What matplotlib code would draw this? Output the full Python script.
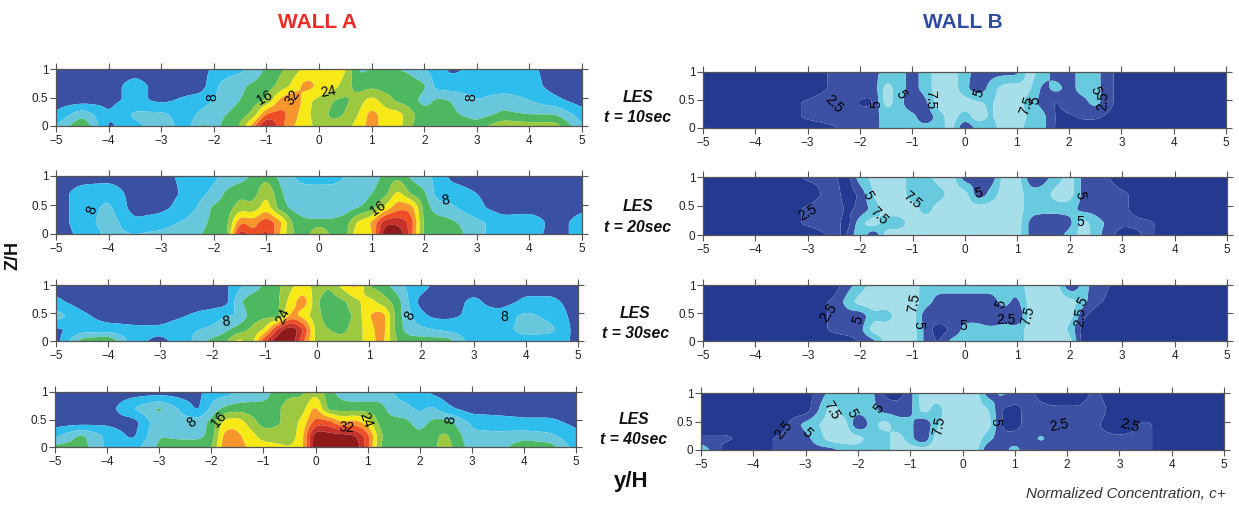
import numpy as np
import matplotlib
matplotlib.use("Agg")
import matplotlib.pyplot as plt
from matplotlib.colors import ListedColormap, BoundaryNorm

plt.rcParams['font.family'] = ['Liberation Sans', 'DejaVu Sans']

W, H = 1239, 505

y_cols = [-5, -4.5, -4, -3.5, -3, -2.5, -2.25, -2, -1.75, -1.5, -1.25, -1, -.75, -.5, -.25, 0, .25, .5, .75, 1, 1.25, 1.5, 1.75, 2, 2.25, 2.5, 3, 3.5, 4, 4.5, 5]
z_rows = [0, .2, .45, .7, 1]

wall_a_levels = [0, 4, 8, 12, 16, 20, 24, 28, 32, 36, 40]
wall_a_colors = ['#3a50a2', '#2fbdee', '#69c7dc', '#4db85f', '#9cc93f', '#f6e917', '#f7962d', '#ee4e24', '#c8302a', '#8e1a1c']
wall_b_levels = [0, 2.5, 5, 7.5, 10]
wall_b_colors = ['#233a90', '#3c51a4', '#67cadf', '#a6deea']

a10 = [
    [8,16,3,7,10,6,13,11,13,16,26,39,30,24,22,18,17,18,22,26,22,22,16,14,14,15,14,19,18,18,8],
    [4.5,11,4,9,9,6,9,11,12,14,17,29,30,26,21,18,15,16,20,26,22,22,17,14,14,13,10,13,12,12,6],
    [2,2,3,5,3,5,6,8,10,12,14,16,25,29,21,19,16,15,18,22,18,15,14,10,13,12,8,10,8,5,2],
    [2,2,2,6,2,2,2,7,10,11,13,14,17,21,26,23,22,18,14,15,14,15,14,13,6,6,6,6,6,2,2],
    [2,2,2,2,2,2,2,5,6,7,9,13,15,18,21,23,23,21,11,12,12,12,11,8,6,3,5,6,5,2,2],
]
a20 = [
    [2,5,9,8,9,11,12,13,14,36,28,34,24,16,13,22,14,14,24,22,40,40,30,14,14,15,9,6,5,3,5],
    [2,6,10,5,6,9,11,13,14,28,26,31,26,15,13,13,13,14,21,24,35,35,31,14,14,13,9,6,7,2,6],
    [2,6,9,2,3,6,9,13,14,18,17,23,14,11,9,9,9,10,12,14,21,27,27,14,10,9,5,2,2,2,3],
    [2,6,7,2,2,5,7,9,13,15,14,20,13,9,9,9,9,9,9,12,14,22,15,13,6,6,4,2,2,2,2],
    [2,2,2,2,3,5,6,7,9,10,13,15,11,8,7,7,7,8,9,10,13,15,11,9,7,3,2,2,2,2,2],
]
a30 = [
    [2,14,16,5,3,6,11,13,15,22,17,32,40,40,28,18,17,17,18,22,26,16,14,14,14,14,5,6,7,6,3],
    [3,6,6,5,5,7,8,9,11,14,17,20,34,40,32,17,16,15,18,22,27,15,10,9,8,7,6,7,9,9,2],
    [10,5,2,2,2,4,5,6,8,8,14,15,14,26,22,17,14,14,17,24,27,15,9,5,3,3,5,6,9,7,2],
    [5,2,2,2,2,2,2,2,2,11,15,14,15,22,27,16,14,15,19,22,18,15,8,2,2,2,5,2,5,5,2],
    [2,2,2,2,2,2,2,2,3,7,9,13,15,19,22,18,16,22,26,15,14,10,7,6,3,2,2,2,2,2,2],
]
a40 = [
    [13,14,7,6,13,14,14,15,27,26,23,22,21,20,22,40,40,40,40,30,15,14,14,14,15,18,10,10,15,14,6],
    [7,13,7,3,12,11,11,13,26,25,22,18,18,18,22,40,38,38,37,30,16,14,14,13,15,17,9,9,10,9,5],
    [2,2,3,2,11,10,10,13,22,23,18,14,15,18,21,30,30,24,26,22,14,14,13,10,13,14,7,6,5,5,3],
    [2,2,2,8,13,6,3,9,13,14,14,14,15,18,18,26,14,14,14,14,14,9,9,7,9,5,2,2,2,2,2],
    [2,2,2,2,2,2,3,6,6,8,9,9,14,15,15,19,14,10,9,9,9,8,6,6,3,2,2,2,2,2,2],
]
b10 = [
    [1,1,1,1,1,2,4,4,4,6,6,6,6,6,9,2,6,6,9,9,6,6,2,1,1,1,1,1,1,1,1],
    [1,1,1,1,3,4,4,4,4,6,6,6,3,6,9,6,9,7,9,9,7,6,2,2,3,3,1,1,1,1,1],
    [1,1,1,1,3,4,4,2,2,9,6,3,4,9,9,9,8,7,9,9,6,4,2,4,4,6,1,1,1,1,1],
    [1,1,1,1,1,3,4,4,3,9,6,4,6,9,9,6,3,6,9,9,8,4,6,4,6,6,1,1,1,1,1],
    [1,1,1,1,1,3,4,4,4,6,6,4,6,9,9,6,4,4,4,4,9,6,4,4,6,6,1,1,1,1,1],
]
b20 = [
    [1,1,1,1,1,3,2,8,2,9,9,9,9,9,9,9,9,9,9,9,4,4,4,6,9,6,1,3,1,1,1],
    [1,1,1,1,3,4,1,7,9,6,6,9,9,9,9,9,9,9,9,9,4,3,3,4,9,6,3,3,1,1,1],
    [1,1,1,1,3,4,2,3,6,9,9,9,6,9,9,9,9,9,9,9,6,6,6,6,4,4,3,1,1,1,1],
    [1,1,1,1,1,4,1,3,8,9,9,6,6,6,9,9,3,6,9,9,6,6,9,9,4,4,3,1,1,1,1],
    [1,1,1,1,3,3,1,7,8,9,9,6,6,9,9,3,5,3,9,9,3,4,6,9,4,4,1,1,1,1,1],
]
b30 = [
    [1,1,1,1,1,1,1,3,4,9,9,9,4,2,6,6,6,6,6,6,9,9,9,9,1,1,1,1,1,1,1],
    [1,1,1,1,1,3,4,4,9,9,9,9,4,1,3,6,6,6,6,6,9,9,9,7,1,1,1,1,1,1,1],
    [1,1,1,1,1,3,4,3,7,6,9,9,3,4,4,4,4,2,4,2,9,9,9,9,3,1,1,1,1,1,1],
    [1,1,1,1,1,3,6,9,9,9,9,9,6,4,4,4,4,4,6,4,9,9,9,9,6,3,1,1,1,1,1],
    [1,1,1,1,1,1,4,6,9,9,9,9,6,6,6,6,6,6,6,6,9,9,9,2,6,4,1,1,1,1,1],
]
b40 = [
    [7,1,1,3,4,4,6,6,6,6,9,9,9,9,9,9,9,2,3,7,2,3,3,3,3,3,3,3,1,1,1],
    [3,3,1,3,4,9,9,9,6,6,9,6,2,9,9,9,9,6,3,3,3,6,3,3,3,3,3,3,1,1,1],
    [1,1,1,1,6,9,9,2,6,9,6,6,2,7,9,9,9,9,2,2,3,3,3,3,3,3,1,3,1,1,1],
    [1,1,1,1,1,9,6,6,6,4,4,4,9,6,9,9,9,8,2,2,3,3,3,3,3,4,1,1,1,1,1],
    [1,1,1,1,1,6,6,6,6,2,1,4,9,9,9,9,9,3,6,3,3,2,1,1,1,3,1,1,1,1,1],
]

a_frames = [(56, 582, 69, 126), (56, 582, 176, 234), (56, 578, 285, 341), (55, 576, 392, 447)]
b_frames = [(703, 1226, 72, 128), (703, 1227, 177, 235), (703, 1227, 285, 341), (701, 1224, 393, 450)]

a_labels = [
    [("8", -2.03, .5, 90), ("16", -1.03, .5, 30), ("32", -.5, .5, 55), ("24", .17, .6, 10), ("8", 2.9, .5, 90)],
    [("8", -4.32, .42, 70), ("16", 1.13, .45, 35), ("8", 2.4, .58, 10)],
    [("8", -1.75, .35, 5), ("24", -.65, .45, 65), ("8", 1.77, .45, 60), ("8", 3.58, .43, 0)],
    [("8", -2.38, .45, 40), ("16", -1.85, .5, 50), ("32", .6, .35, -5), ("24", .97, .5, -70), ("8", 2.6, .5, 85)],
]
b_labels = [
    [("2.5", -2.5, .43, -45), ("5", -1.68, .42, 90), ("5", -1.22, .6, -60), ("7.5", -.65, .5, -90), ("5", .27, .63, 70), ("7.5", 1.2, .4, 70), ("5", 1.35, .5, 80), ("5", 2.5, .68, -70), ("2.5", 2.65, .48, 85)],
    [("2.5", -3.0, .38, 30), ("5", -1.85, .68, -60), ("7.5", -1.65, .32, -45), ("5", .25, .72, 10), ("7.5", -1.0, .6, -40), ("5", 2.2, .68, -80), ("5", 2.2, .23, 0)],
    [("2.5", -2.6, .5, 55), ("5", -2.05, .37, 70), ("7.5", -.97, .68, 80), ("5", -.88, .28, -90), ("5", -.03, .26, 0), ("2.5", .78, .38, 0), ("5", .68, .66, 70), ("7.5", 1.2, .45, 75), ("5", 2.25, .7, 60), ("2.5", 2.2, .42, 85)],
    [("2.5", -3.42, .35, 50), ("5", -2.98, .3, -45), ("7.5", -2.5, .7, -60), ("5", -2.12, .65, -60), ("5", -1.6, .73, 50), ("7.5", -.45, .42, 80), ("5", .63, .5, -90), ("2.5", 1.85, .43, 10), ("2.5", 3.2, .42, -15)],
]

fig = plt.figure(figsize=(W / 100, H / 100), dpi=100, facecolor='white')

fine_x = np.linspace(-5, 5, 241)
fine_z = np.linspace(0, 1, 61)


def soften(grid):
    """Resample the read grid onto a fine mesh and round the corners of its cells."""
    g = np.array(grid, dtype=float)
    across = np.array([np.interp(fine_x, y_cols, row) for row in g])
    fine = np.array([np.interp(fine_z, z_rows, across[:, j]) for j in range(across.shape[1])]).T
    for axis, n in ((1, 7), (0, 7)):
        pad = [(0, 0), (0, 0)]
        pad[axis] = (n // 2, n // 2)
        padded = np.pad(fine, pad, mode='edge')
        kernel = np.hanning(n + 2)[1:-1]
        kernel = kernel / kernel.sum()
        fine = np.apply_along_axis(lambda v: np.convolve(v, kernel, mode='valid'), axis, padded)
    return fine


def panel(frame, grid, levels, colors, labels):
    x0, x1, top, bot = frame
    ax = fig.add_axes([x0 / W, 1 - bot / H, (x1 - x0) / W, (bot - top) / H])
    ax.contourf(fine_x, fine_z, soften(grid), levels=levels,
                cmap=ListedColormap(colors), norm=BoundaryNorm(levels, len(colors)), antialiased=True)
    ax.set_xlim(-5, 5)
    ax.set_ylim(0, 1)
    ax.set_xticks(range(-5, 6))
    ax.set_yticks([0, .5, 1])
    ax.set_yticklabels(['0', '0.5', '1'])
    ax.tick_params(axis='both', which='both', top=True, right=True, direction='out', length=4, width=.8,
                   labelsize=8.5, pad=1.5, color='#555555', labelcolor='#222222')
    ax.tick_params(axis='x', pad=2.5)
    for s in ax.spines.values():
        s.set_linewidth(.9)
        s.set_color('#555555')
    for txt, lx, lz, rot in labels:
        ax.text(lx, lz, txt, fontsize=10, rotation=rot, ha='center', va='center', color='black', clip_on=True)
    return ax


a_grids = [a10, a20, a30, a40]
b_grids = [b10, b20, b30, b40]
for fr, g, lab in zip(a_frames, a_grids, a_labels):
    panel(fr, g, wall_a_levels, wall_a_colors, lab)
for fr, g, lab in zip(b_frames, b_grids, b_labels):
    panel(fr, g, wall_b_levels, wall_b_colors, lab)


def ftext(px, py, s, **kw):
    return fig.text(px / W, 1 - py / H, s, ha=kw.pop('ha', 'center'), va=kw.pop('va', 'center'), **kw)


ftext(318, 22, "WALL A", fontsize=15, fontweight='bold', color='#ee2a24')
ftext(963, 22, "WALL B", fontsize=15, fontweight='bold', color='#2f4da0')
ftext(631, 482, "y/H", fontsize=16, fontweight='bold', color='#111111')
ftext(1226, 494, "Normalized Concentration, c+", fontsize=10.9, style='italic', color='#333333', ha='right')
ftext(13, 255, "Z/H", fontsize=13, fontweight='bold', rotation=90, color='#111111')

times = ["t = 10sec", "t = 20sec", "t = 30sec", "t = 40sec"]
rows_py = [(97, 117), (207, 227), (313, 333), (419, 439)]
centers = [638, 638, 635, 634]
for t, (p1, p2), cx in zip(times, rows_py, centers):
    ftext(cx, p1, "LES", fontsize=11.3, fontweight='bold', style='italic', color='#111111')
    ftext(cx, p2, t, fontsize=11.3, fontweight='bold', style='italic', color='#111111')

fig.savefig('out.png', dpi=100)
